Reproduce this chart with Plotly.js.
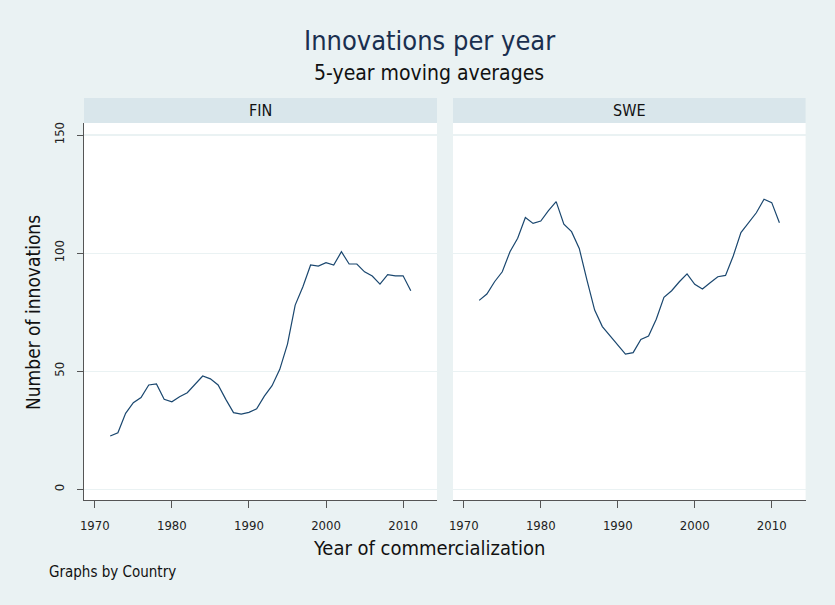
<!DOCTYPE html>
<html><head><meta charset="utf-8">
<script src="https://cdn.plot.ly/plotly-3.0.1.min.js"></script>
<style>html,body{margin:0;padding:0;background:#eaf2f3;}</style>
</head><body>
<div id="chart" style="width:835px;height:605px;"></div>
<script>
const years = [];
for (let y = 1972; y <= 2011; y++) years.push(y);
const finValues = [22.6,24.0,32.2,36.7,38.9,44.2,44.6,38.1,37.1,39.2,
  40.9,44.6,48.0,46.8,44.2,38.1,32.5,31.9,32.6,34.1,
  39.5,43.9,50.8,61.5,78.0,85.8,95.0,94.5,96.0,95.0,
  100.6,95.4,95.4,92.1,90.3,86.9,90.9,90.4,90.4,84.1];
const sweValues = [80.0,82.7,87.9,92.1,100.6,106.3,115.1,112.6,113.6,118.0,
  121.8,112.3,109.1,102.0,88.6,75.9,68.9,64.9,61.1,57.3,
  57.9,63.5,64.9,72.0,81.3,84.1,87.9,91.2,86.8,84.8,
  87.5,90.0,90.6,98.8,108.7,112.9,117.1,122.8,121.4,112.9];
const panels = ["FIN", "SWE"];
const xTicks = [1970,1980,1990,2000,2010];
const yTicks = [0,50,100,150];

const W = 835, H = 605;
const px = v => v / W, py = v => 1 - v / H;
const font = "'Liberation Sans Narrow', 'DejaVu Sans Condensed', 'Open Sans', sans-serif";
const lineColor = '#1a476f';
const grid = '#eaf2f3';

const traces = [
  {x: years, y: finValues, xaxis: 'x', yaxis: 'y', type: 'scatter', mode: 'lines',
   line: {color: lineColor, width: 1.2}, hoverinfo: 'x+y'},
  {x: years, y: sweValues, xaxis: 'x2', yaxis: 'y2', type: 'scatter', mode: 'lines',
   line: {color: lineColor, width: 1.2}, hoverinfo: 'x+y'}
];

const xr = [1968.6, 2014.4];
const yr = [-4.5, 155.1];
const xCommon = {range: xr, tickvals: xTicks, ticks: 'outside', ticklen: 7, tickcolor: '#555',
  showgrid: false, zeroline: false, showline: true, linecolor: '#555', linewidth: 1.3,
  tickfont: {family: font, size: 13, color: '#222'}, ticklabelstandoff: 6};
const yCommon = {range: yr, tickvals: yTicks, showgrid: true, gridcolor: grid, gridwidth: 1.2,
  zeroline: false, domain: [py(500), py(123)]};

const layout = {
  width: W, height: H,
  margin: {l: 0, r: 0, t: 0, b: 0},
  paper_bgcolor: '#eaf2f3', plot_bgcolor: '#ffffff',
  showlegend: false,
  font: {family: font, color: '#222'},
  xaxis: Object.assign({}, xCommon, {domain: [px(84), px(437)], anchor: 'y'}),
  xaxis2: Object.assign({}, xCommon, {domain: [px(453), px(805.6)], anchor: 'y2'}),
  yaxis: Object.assign({}, yCommon, {anchor: 'x', ticks: 'outside', ticklen: 6, tickcolor: '#555',
    showline: true, linecolor: '#555', linewidth: 1.3, tickangle: -90,
    tickfont: {family: font, size: 13, color: '#222'}, ticklabelstandoff: 8}),
  yaxis2: Object.assign({}, yCommon, {anchor: 'x2', showticklabels: false, ticks: '', showline: false}),
  shapes: [
    {type: 'rect', xref: 'paper', yref: 'paper', x0: px(84), x1: px(437), y0: py(123), y1: py(98),
     fillcolor: '#d9e6eb', line: {width: 0}},
    {type: 'rect', xref: 'paper', yref: 'paper', x0: px(453), x1: px(805.6), y0: py(123), y1: py(98),
     fillcolor: '#d9e6eb', line: {width: 0}}
  ],
  annotations: [
    {text: 'Innovations per year', xref: 'paper', yref: 'paper', x: px(429), y: py(40),
     showarrow: false, font: {family: font, size: 27, color: '#1a2f4f'}, xanchor: 'center', yanchor: 'middle'},
    {text: '5-year moving averages', xref: 'paper', yref: 'paper', x: px(429), y: py(73),
     showarrow: false, font: {family: font, size: 21, color: '#111'}, xanchor: 'center', yanchor: 'middle'},
    {text: panels[0], xref: 'paper', yref: 'paper', x: px(260.5), y: py(110),
     showarrow: false, font: {family: font, size: 16, color: '#111'}, xanchor: 'center', yanchor: 'middle'},
    {text: panels[1], xref: 'paper', yref: 'paper', x: px(629.3), y: py(110),
     showarrow: false, font: {family: font, size: 16, color: '#111'}, xanchor: 'center', yanchor: 'middle'},
    {text: 'Number of innovations', xref: 'paper', yref: 'paper', x: px(33), y: py(313),
     showarrow: false, textangle: -90, font: {family: font, size: 19, color: '#111'}, xanchor: 'center', yanchor: 'middle'},
    {text: 'Year of commercialization', xref: 'paper', yref: 'paper', x: px(429), y: py(548),
     showarrow: false, font: {family: font, size: 20, color: '#111'}, xanchor: 'center', yanchor: 'middle'},
    {text: 'Graphs by Country', xref: 'paper', yref: 'paper', x: px(47), y: py(572),
     showarrow: false, font: {family: font, size: 15, color: '#111'}, xanchor: 'left', yanchor: 'middle'}
  ]
};
Plotly.newPlot('chart', traces, layout, {displayModeBar: false, staticPlot: true});
</script>
</body></html>
